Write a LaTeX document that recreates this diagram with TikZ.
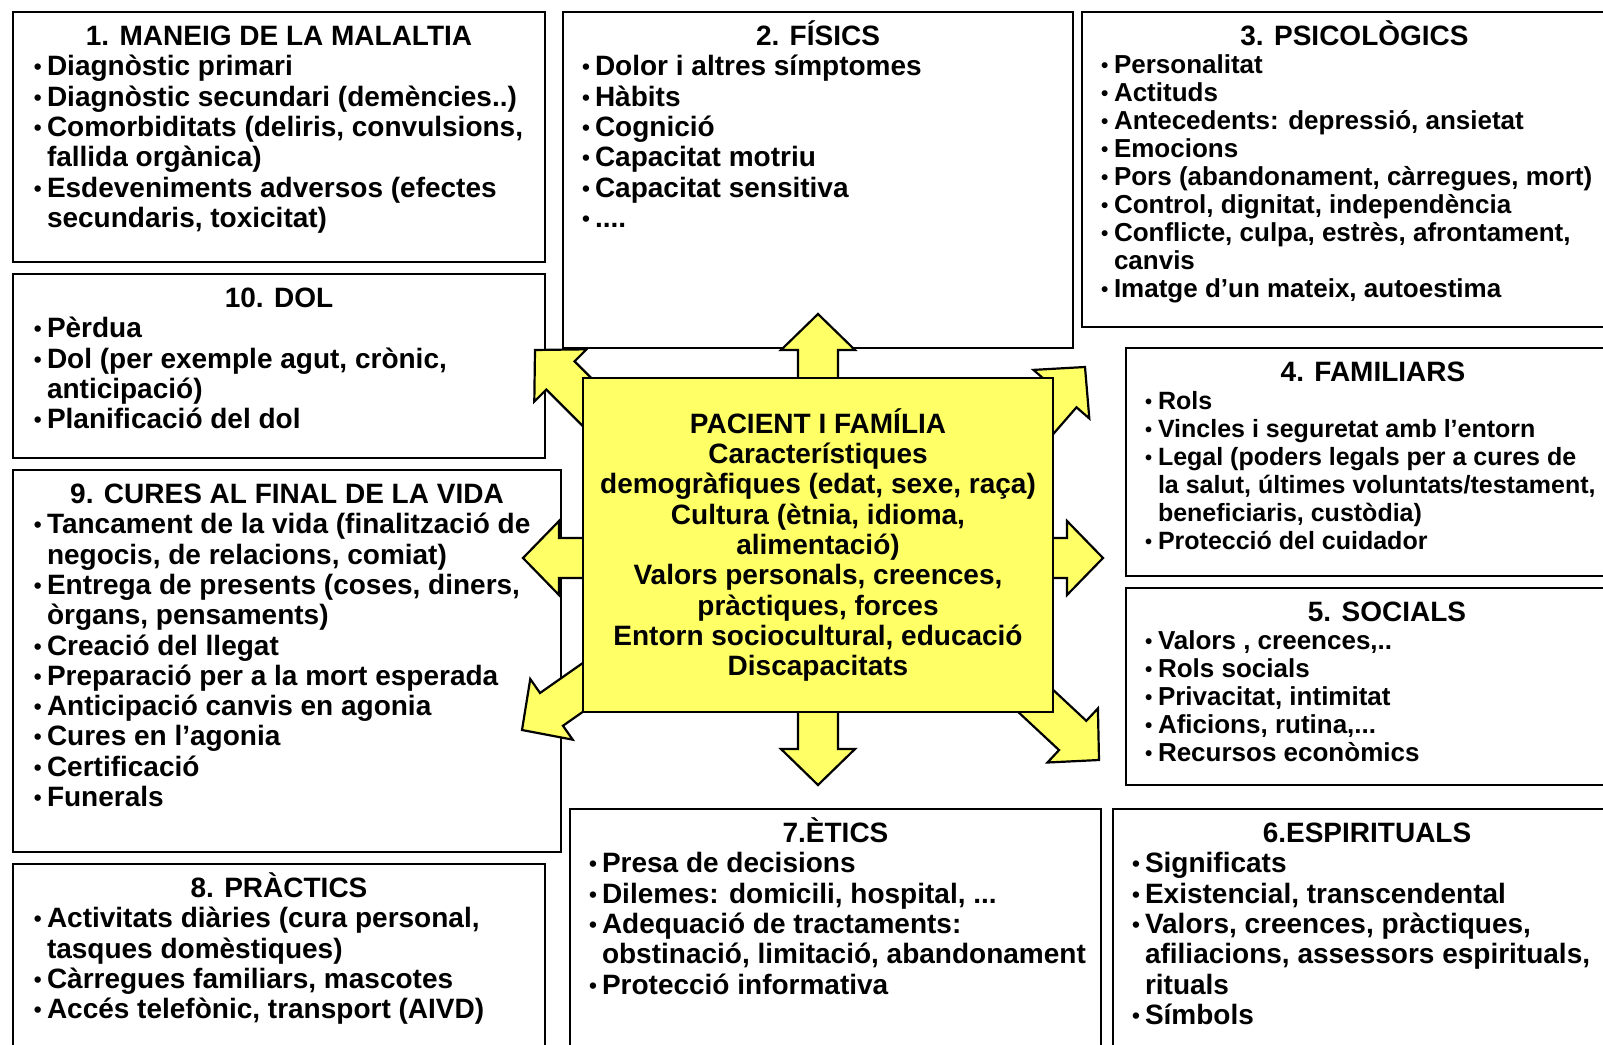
\documentclass[tikz,border=0pt]{standalone}
\usepackage{graphicx}
\usepackage{fontspec}
\setmainfont{Liberation Sans}
\usetikzlibrary{positioning}
\definecolor{pacyellow}{RGB}{255,255,102}

\newlength{\bulw}
\setlength{\bulw}{10pt}
\newcommand{\panel}[3]{\begin{minipage}[t][#2pt][t]{#1pt}#3\end{minipage}}
\newcommand{\ttl}[1]{{\fontsize{28}{30.3}\selectfont\centering\rule{0pt}{33.5pt}#1\par}}
\newcommand{\itm}{\par\hangindent=\bulw\hangafter=1\rightskip=-40pt plus 1fil\noindent\makebox[\bulw][l]{\hspace*{-3pt}\raisebox{1pt}{\scalebox{0.8}{\textbullet}}}}

\begin{document}
\begin{tikzpicture}[x=1pt, y=-1pt,
        node distance=12pt,
        panel/.style={draw, line width=2.4pt, anchor=north west, inner xsep=22pt, inner ysep=0pt, outer sep=0pt, font=\fontsize{28}{30.3}\selectfont\bfseries},
        smallfont/.style={font=\fontsize{26}{28}\selectfont\bfseries},
        core/.style={draw, line width=2.4pt, fill=pacyellow, minimum width=470pt, minimum height=334pt, align=center, font=\fontsize{28}{30.3}\selectfont\bfseries},
        bigarrow/.style={draw, line width=2.2pt, fill=pacyellow, line join=miter}
    ]
        \useasboundingbox[fill=white] (0,0) rectangle (1603,1044);

        % Left column
        \node[panel, inner xsep=24pt] (man) at (13,12) {\panel{484}{250}{%
            \ttl{1. MANEIG DE LA MALALTIA}
            \itm Diagnòstic primari
            \itm Diagnòstic secundari (demències..)
            \itm Comorbiditats (deliris, convulsions,\\ fallida orgànica)
            \itm Esdeveniments adversos (efectes\\ secundaris, toxicitat)}};
        \node[panel, inner xsep=24pt, below=of man.south west, anchor=north west] (dol) {\panel{484}{184}{%
            \ttl{10. DOL}
            \itm Pèrdua
            \itm Dol (per exemple agut, crònic,\\ anticipació)
            \itm Planificació del dol}};
        \node[panel, inner xsep=24pt, below=of dol.south west, anchor=north west] (fin) {\panel{500}{382}{%
            \ttl{9. CURES AL FINAL DE LA VIDA}
            \itm Tancament de la vida (finalització de\\ negocis, de relacions, comiat)
            \itm Entrega de presents (coses, diners,\\ òrgans, pensaments)
            \itm Creació del llegat
            \itm Preparació per a la mort esperada
            \itm Anticipació canvis en agonia
            \itm Cures en l’agonia
            \itm Certificació
            \itm Funerals}};
        \node[panel, inner xsep=24pt, below=of fin.south west, anchor=north west] (pra) {\panel{484}{200}{%
            \ttl{8. PRÀCTICS}
            \itm Activitats diàries (cura personal,\\ tasques domèstiques)
            \itm Càrregues familiars, mascotes
            \itm Accés telefònic, transport (AIVD)}};

        % Middle and right
        \node[panel] (fis) at (563,12) {\panel{466}{336}{%
            \ttl{2. FÍSICS}
            \itm Dolor i altres símptomes
            \itm Hàbits
            \itm Cognició
            \itm Capacitat motriu
            \itm Capacitat sensitiva
            \itm ....}};
        \node[panel, smallfont] (psi) at (1082,12) {\panel{501}{315}{%
            \ttl{3. PSICOLÒGICS}
            \itm Personalitat
            \itm Actituds
            \itm Antecedents: depressió, ansietat
            \itm Emocions
            \itm Pors (abandonament, càrregues, mort)
            \itm Control, dignitat, independència
            \itm Conflicte, culpa, estrès, afrontament,\\ canvis
            \itm Imatge d’un mateix, autoestima}};
        \node[panel, font=\fontsize{25}{28}\selectfont\bfseries] (fam) at (1126,348) {\panel{450}{228}{%
            \ttl{4. FAMILIARS}
            \itm Rols
            \itm Vincles i seguretat amb l’entorn
            \itm Legal (poders legals per a cures de\\ la salut, últimes voluntats/testament,\\ beneficiaris, custòdia)
            \itm Protecció del cuidador}};
        \node[panel, smallfont, below=of fam.south west, anchor=north west] (soc) {\panel{478}{197}{%
            \ttl{5. SOCIALS}
            \itm Valors , creences,..
            \itm Rols socials
            \itm Privacitat, intimitat
            \itm Aficions, rutina,...
            \itm Recursos econòmics}};
        \node[panel] (esp) at (1113,809) {\panel{464}{250}{%
            \ttl{6.ESPIRITUALS}
            \itm Significats
            \itm Existencial, transcendental
            \itm Valors, creences, pràctiques,\\ afiliacions, assessors espirituals,\\ rituals
            \itm Símbols}};
        \node[panel] (eti) at (570,809) {\panel{487}{250}{%
            \ttl{7.ÈTICS}
            \itm Presa de decisions
            \itm Dilemes: domicili, hospital, ...
            \itm Adequació de tractaments:\\ obstinació, limitació, abandonament
            \itm Protecció informativa}};

        % Arrow tips
        \coordinate (tipU) at (818,314);
        \coordinate (tipD) at (818,785);
        \coordinate (tipL) at (523,558);
        \coordinate (tipR) at (1103,558);
        \coordinate (tipNW) at (535,350);
        \coordinate (tipNE) at (1085,367);
        \coordinate (tipSW) at (522,730);
        \coordinate (tipSE) at (1099,760);

        % Arrows
        \foreach \tip/\ang in {tipU/90, tipD/270, tipL/180, tipR/0, tipNW/135, tipNE/49, tipSW/215, tipSE/-43}
            \draw[bigarrow, shift={(\tip)}, rotate=\ang] (0,0) -- (-36,37) -- (-36,20) -- (-120,20) -- (-120,-20) -- (-36,-20) -- (-36,-37) -- cycle;

        % Centre
        \node[core] (pac) at (818,545) {PACIENT I FAMÍLIA\\ Característiques\\ demogràfiques (edat, sexe, raça)\\ Cultura (ètnia, idioma,\\ alimentació)\\ Valors personals, creences,\\ pràctiques, forces\\ Entorn sociocultural, educació\\ Discapacitats};

    \end{tikzpicture}
\end{document}
